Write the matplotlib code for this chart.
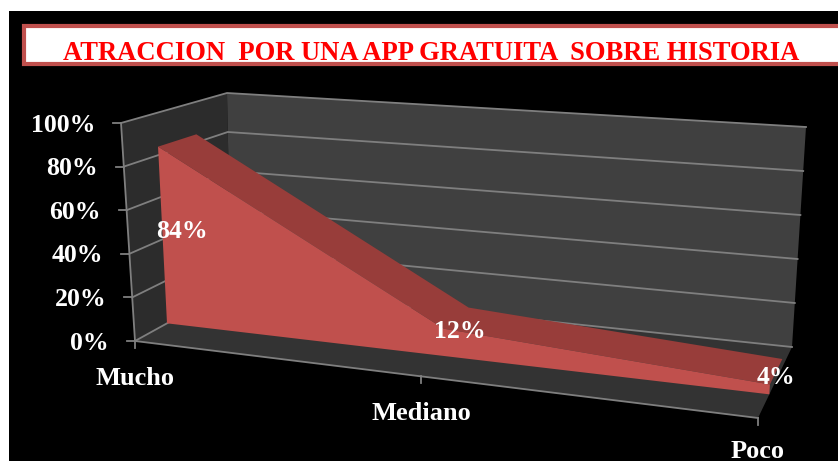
import matplotlib
matplotlib.use('Agg')
import matplotlib.pyplot as plt
from matplotlib.patches import Polygon, Rectangle

plt.rcParams['font.family'] = ['Liberation Serif', 'DejaVu Serif']

# Data
title = 'ATRACCION  POR UNA APP GRATUITA  SOBRE HISTORIA'
categories = ['Mucho', 'Mediano', 'Poco']
values = [84, 12, 4]
axis_ticks = [0, 20, 40, 60, 80, 100]

# Box of the fake 3D chart in pixels: (left/right, front/back, bottom/top)
box = {
    (0, 0, 0): (135, 341), (0, 0, 1): (121, 123),
    (0, 1, 0): (231, 288), (0, 1, 1): (227, 93),
    (1, 0, 0): (758, 418), (1, 0, 1): (772, 158),
    (1, 1, 0): (792, 347), (1, 1, 1): (806, 127),
}
persp = 1.178
band_front = 1 / 3
band_back = 0.70


def project(u, d, v):
    # u = across, d = depth, v = height, all 0..1
    u = u / (u + persp * (1 - u))
    x = y = 0
    for i, wu in ((0, 1 - u), (1, u)):
        for j, wd in ((0, 1 - d), (1, d)):
            for k, wv in ((0, 1 - v), (1, v)):
                x += wu * wd * wv * box[(i, j, k)][0]
                y += wu * wd * wv * box[(i, j, k)][1]
    return x, y


def cat_pos(i):
    return i / (len(categories) - 1)


fig = plt.figure(figsize=(8.38, 4.61), dpi=100, facecolor='white')
ax = fig.add_axes([0, 0, 1, 1])
ax.set_xlim(0, 838)
ax.set_ylim(461, 0)
ax.axis('off')

# Black panel and title box
ax.add_patch(Rectangle((9, 11), 829, 450, fc='black', ec='none', zorder=0))
ax.add_patch(Rectangle((23.5, 26.5), 830, 38, fc='white', ec='#C0504D', lw=3, zorder=1))
ax.text(431, 53, title, color='#FF0000', fontsize=19.2, fontweight='bold',
        ha='center', va='center', zorder=2)

# Walls and floor
wall_left = [project(0, 0, 0), project(0, 1, 0), project(0, 1, 1), project(0, 0, 1)]
wall_back = [project(0, 1, 0), project(1, 1, 0), project(1, 1, 1), project(0, 1, 1)]
floor = [project(0, 0, 0), project(1, 0, 0), project(1, 1, 0), project(0, 1, 0)]
ax.add_patch(Polygon(wall_left, fc='#2C2C2C', ec='none', zorder=1))
ax.add_patch(Polygon(wall_back, fc='#404040', ec='none', zorder=1))
ax.add_patch(Polygon(floor, fc='#333333', ec='none', zorder=1))

# Gridlines and value ticks
grid_color = '#7F7F7F'
for t in axis_ticks:
    v = t / 100
    pts = [project(0, 0, v), project(0, 1, v), project(1, 1, v)]
    ax.plot([p[0] for p in pts], [p[1] for p in pts], color=grid_color, lw=1.3, zorder=2)
    x0, y0 = pts[0]
    ax.plot([x0 - 8, x0], [y0, y0], color=grid_color, lw=1.3, zorder=2)
    ax.text(x0 - 26, y0 + 2, f'{t}%', color='white', fontsize=18.5, fontweight='bold',
            ha='right', va='center', zorder=5)

# Axis lines
pts = [project(0, 0, 1), project(0, 0, 0), project(1, 0, 0)]
ax.plot([p[0] for p in pts], [p[1] for p in pts], color=grid_color, lw=1.3, zorder=2)

# Area band: top side then front side
top_side = [project(cat_pos(i), band_front, v / 100) for i, v in enumerate(values)]
top_side += [project(cat_pos(i), band_back, v / 100) for i, v in reversed(list(enumerate(values)))]
front_side = [project(cat_pos(i), band_front, v / 100) for i, v in enumerate(values)]
front_side += [project(1, band_front, 0), project(0, band_front, 0)]
ax.add_patch(Polygon(top_side, fc='#983D3A', ec='none', zorder=3))
ax.add_patch(Polygon(front_side, fc='#C0504D', ec='none', zorder=4))

# Category ticks and labels
label_drop = [37, 37, 33]
for i, name in enumerate(categories):
    x0, y0 = project(cat_pos(i), 0, 0)
    ax.plot([x0, x0], [y0, y0 + 7], color=grid_color, lw=1.3, zorder=2)
    ax.text(x0, y0 + label_drop[i], name, color='white', fontsize=19, fontweight='bold',
            ha='center', va='center', zorder=5)

# Data labels, nudged like the original
label_offset = [(24, 85), (16, 3), (6, -7)]
for i, v in enumerate(values):
    x0, y0 = project(cat_pos(i), band_front, v / 100)
    ax.text(x0 + label_offset[i][0], y0 + label_offset[i][1], f'{v}%', color='white',
            fontsize=18.5, fontweight='bold', ha='center', va='center', zorder=6)

fig.savefig('out.png', dpi=100, facecolor='white')
plt.close()
